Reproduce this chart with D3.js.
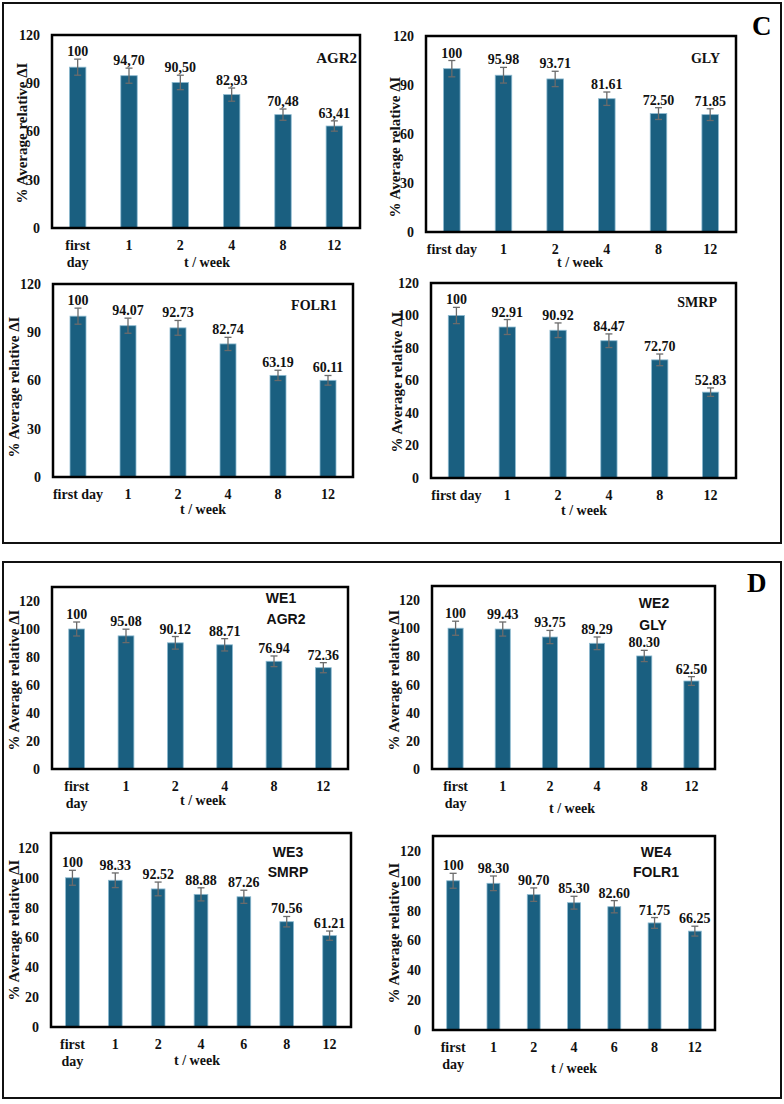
<!DOCTYPE html>
<html>
<head>
<meta charset="utf-8">
<script src="https://cdn.jsdelivr.net/npm/d3@7"></script>
<style>
  html, body { margin: 0; padding: 0; background: #fff; }
  svg { display: block; }
</style>
</head>
<body>
<svg id="chart" width="784" height="1104"></svg>
<script>
// ---------- DATA ----------
const catsC6 = ["first day", "1", "2", "4", "8", "12"];
const catsD7 = ["first day", "1", "2", "4", "6", "8", "12"];

const ticks30 = [0, 30, 60, 90, 120];
const ticks20 = [0, 20, 40, 60, 80, 100, 120];

// Panel C
const agr2Values = [100, 94.70, 90.50, 82.93, 70.48, 63.41];
const agr2Labels = ["100", "94,70", "90,50", "82,93", "70,48", "63,41"];
const agr2Err    = [5.0, 4.7, 4.5, 4.1, 3.5, 3.2];

const glyValues = [100, 95.98, 93.71, 81.61, 72.50, 71.85];
const glyLabels = ["100", "95.98", "93.71", "81.61", "72.50", "71.85"];
const glyErr    = [5.0, 4.8, 4.7, 4.1, 3.6, 3.6];

const folr1Values = [100, 94.07, 92.73, 82.74, 63.19, 60.11];
const folr1Labels = ["100", "94.07", "92.73", "82.74", "63.19", "60.11"];
const folr1Err    = [5.0, 4.7, 4.6, 4.1, 3.2, 3.0];

const smrpValues = [100, 92.91, 90.92, 84.47, 72.70, 52.83];
const smrpLabels = ["100", "92.91", "90.92", "84.47", "72.70", "52.83"];
const smrpErr    = [5.0, 4.6, 4.5, 4.2, 3.6, 2.6];

// Panel D
const we1Values = [100, 95.08, 90.12, 88.71, 76.94, 72.36];
const we1Labels = ["100", "95.08", "90.12", "88.71", "76.94", "72.36"];
const we1Err    = [5.0, 4.8, 4.5, 4.4, 3.8, 3.6];

const we2Values = [100, 99.43, 93.75, 89.29, 80.30, 62.50];
const we2Labels = ["100", "99.43", "93.75", "89.29", "80.30", "62.50"];
const we2Err    = [5.0, 5.0, 4.7, 4.5, 4.0, 3.1];

const we3Values = [100, 98.33, 92.52, 88.88, 87.26, 70.56, 61.21];
const we3Labels = ["100", "98.33", "92.52", "88.88", "87.26", "70.56", "61.21"];
const we3Err    = [5.0, 4.9, 4.6, 4.4, 4.4, 3.5, 3.1];

const we4Values = [100, 98.30, 90.70, 85.30, 82.60, 71.75, 66.25];
const we4Labels = ["100", "98.30", "90.70", "85.30", "82.60", "71.75", "66.25"];
const we4Err    = [5.0, 4.9, 4.5, 4.3, 4.1, 3.6, 3.3];

const yTitle = "% Average relative \u0394I";
const xTitle = "t / week";

// ---------- LAYOUT ----------
const SERIF = "'Liberation Serif', 'Times New Roman', serif";
const SANS = "'Liberation Sans', Arial, sans-serif";
const BAR = "#1a5f80";

const panels = [
  { cats: catsC6, values: agr2Values, labels: agr2Labels, err: agr2Err, ticks: ticks30, yMax: 120,
    box: [52, 35, 360, 228], twoLine: true, xtY: 262, xtX: 207, yt: [22, 133],
    titles: [{ t: "AGR2", x: 357, y: 58, anchor: "end", font: SERIF, size: 15 }] },
  { cats: catsC6, values: glyValues, labels: glyLabels, err: glyErr, ticks: ticks30, yMax: 120,
    box: [426, 36, 736, 232], twoLine: false, xtY: 262, xtX: 580, yt: [395, 147],
    titles: [{ t: "GLY", x: 720, y: 58, anchor: "end", font: SERIF, size: 14 }] },
  { cats: catsC6, values: folr1Values, labels: folr1Labels, err: folr1Err, ticks: ticks30, yMax: 120,
    box: [53, 284, 353, 477], twoLine: false, xtY: 509, xtX: 203, yt: [14, 387],
    titles: [{ t: "FOLR1", x: 337, y: 305, anchor: "end", font: SERIF, size: 14 }] },
  { cats: catsC6, values: smrpValues, labels: smrpLabels, err: smrpErr, ticks: ticks20, yMax: 120,
    box: [431, 283, 736, 478], twoLine: false, xtY: 510, xtX: 584, yt: [397, 382],
    titles: [{ t: "SMRP", x: 717, y: 302, anchor: "end", font: SERIF, size: 14 }] },
  { cats: catsC6, values: we1Values, labels: we1Labels, err: we1Err, ticks: ticks20, yMax: 130,
    box: [52, 587, 348, 769], twoLine: true, xtY: 800, xtX: 203, yt: [14, 680],
    titles: [{ t: "WE1", x: 281, y: 598, anchor: "middle", font: SANS, size: 14 },
             { t: "AGR2", x: 286, y: 619, anchor: "middle", font: SANS, size: 14 }] },
  { cats: catsC6, values: we2Values, labels: we2Labels, err: we2Err, ticks: ticks20, yMax: 130,
    box: [432, 586, 715, 769], twoLine: true, xtY: 808, xtX: 572, yt: [394, 680],
    titles: [{ t: "WE2", x: 654, y: 603, anchor: "middle", font: SANS, size: 14 },
             { t: "GLY", x: 653, y: 625, anchor: "middle", font: SANS, size: 14 }] },
  { cats: catsD7, values: we3Values, labels: we3Labels, err: we3Err, ticks: ticks20, yMax: 130,
    box: [51, 833, 351, 1027], twoLine: true, xtY: 1060, xtX: 197, yt: [14, 930],
    titles: [{ t: "WE3", x: 288, y: 852, anchor: "middle", font: SANS, size: 14 },
             { t: "SMRP", x: 288, y: 872, anchor: "middle", font: SANS, size: 14 }] },
  { cats: catsD7, values: we4Values, labels: we4Labels, err: we4Err, ticks: ticks20, yMax: 130,
    box: [433, 836, 715, 1030], twoLine: true, xtY: 1068, xtX: 574, yt: [394, 933],
    titles: [{ t: "WE4", x: 656, y: 852, anchor: "middle", font: SANS, size: 14 },
             { t: "FOLR1", x: 656, y: 872, anchor: "middle", font: SANS, size: 14 }] }
];

const svg = d3.select("#chart");

// outer boxes
svg.append("rect").attr("x", 3).attr("y", 3).attr("width", 778).attr("height", 540)
  .attr("fill", "none").attr("stroke", "#111").attr("stroke-width", 2);
svg.append("rect").attr("x", 3).attr("y", 562).attr("width", 778).attr("height", 536)
  .attr("fill", "none").attr("stroke", "#111").attr("stroke-width", 2);

svg.append("text").attr("x", 752).attr("y", 35).text("C")
  .attr("font-family", SERIF).attr("font-weight", "bold").attr("font-size", 27);
svg.append("text").attr("x", 747).attr("y", 592).text("D")
  .attr("font-family", SERIF).attr("font-weight", "bold").attr("font-size", 27);

panels.forEach(p => {
  const [x0, y0, x1, y1] = p.box;
  const g = svg.append("g");
  const y = d3.scaleLinear().domain([0, p.yMax]).range([y1, y0]);
  const x = d3.scaleBand().domain(p.cats).range([x0, x1]).paddingInner(0.68).paddingOuter(0.34);

  const data = p.cats.map((c, i) => ({ c, v: p.values[i], e: p.err[i], l: p.labels[i] }));

  // bars
  g.selectAll("rect.bar").data(data).join("rect")
    .attr("class", "bar")
    .attr("x", d => x(d.c)).attr("width", x.bandwidth())
    .attr("y", d => y(d.v)).attr("height", d => y(0) - y(d.v))
    .attr("fill", BAR).attr("stroke", "#8dbad0").attr("stroke-width", 0.8);

  // error bars
  const eb = g.selectAll("g.err").data(data).join("g").attr("class", "err")
    .attr("stroke", "#6b6b6b").attr("stroke-width", 1.3);
  eb.append("line")
    .attr("x1", d => x(d.c) + x.bandwidth() / 2).attr("x2", d => x(d.c) + x.bandwidth() / 2)
    .attr("y1", d => y(d.v + d.e)).attr("y2", d => y(d.v - d.e));
  eb.append("line")
    .attr("x1", d => x(d.c) + x.bandwidth() / 2 - 3.5).attr("x2", d => x(d.c) + x.bandwidth() / 2 + 3.5)
    .attr("y1", d => y(d.v + d.e)).attr("y2", d => y(d.v + d.e));
  eb.append("line")
    .attr("x1", d => x(d.c) + x.bandwidth() / 2 - 3.5).attr("x2", d => x(d.c) + x.bandwidth() / 2 + 3.5)
    .attr("y1", d => y(d.v - d.e)).attr("y2", d => y(d.v - d.e));

  // value labels
  g.selectAll("text.val").data(data).join("text").attr("class", "val")
    .attr("x", d => x(d.c) + x.bandwidth() / 2)
    .attr("y", d => y(d.v + d.e) - 3)
    .attr("text-anchor", "middle")
    .attr("font-family", SERIF).attr("font-weight", "bold").attr("font-size", 14)
    .attr("fill", "#111")
    .text(d => d.l);

  // frame
  g.append("rect").attr("x", x0).attr("y", y0).attr("width", x1 - x0).attr("height", y1 - y0)
    .attr("fill", "none").attr("stroke", "#000").attr("stroke-width", 2.5);

  // y axis
  const ya = g.append("g").attr("transform", `translate(${x0},0)`)
    .call(d3.axisLeft(y).tickValues(p.ticks).tickSize(0).tickPadding(12));
  ya.select(".domain").remove();
  ya.selectAll("text").attr("font-family", SERIF).attr("font-weight", "bold")
    .attr("font-size", 14).attr("fill", "#111");

  // x axis
  const xa = g.append("g").attr("transform", `translate(0,${y1})`)
    .call(d3.axisBottom(x).tickSize(0).tickPadding(0));
  xa.select(".domain").remove();
  xa.selectAll("text").each(function (d) {
    const t = d3.select(this);
    t.text(null).attr("y", 0).attr("dy", null)
      .attr("font-family", SERIF).attr("font-weight", "bold")
      .attr("font-size", 14).attr("fill", "#111");
    if (p.twoLine && d === "first day") {
      t.append("tspan").attr("x", 0).attr("y", 22).text("first");
      t.append("tspan").attr("x", 0).attr("y", 39).text("day");
    } else {
      t.append("tspan").attr("x", 0).attr("y", 22).text(d);
    }
  });

  // axis titles
  g.append("text").attr("x", p.xtX).attr("y", p.xtY + 5).attr("text-anchor", "middle")
    .attr("font-family", SERIF).attr("font-weight", "bold").attr("font-size", 14)
    .attr("fill", "#111").text(xTitle);
  g.append("text")
    .attr("transform", `translate(${p.yt[0] + 5},${p.yt[1]}) rotate(-90)`)
    .attr("text-anchor", "middle")
    .attr("font-family", SERIF).attr("font-weight", "bold").attr("font-size", 15)
    .attr("fill", "#111").text(yTitle);

  // panel titles
  p.titles.forEach(tt => {
    g.append("text").attr("x", tt.x).attr("y", tt.y + 5).attr("text-anchor", tt.anchor)
      .attr("font-family", tt.font).attr("font-weight", "bold").attr("font-size", tt.size)
      .attr("fill", "#111").text(tt.t);
  });
});
</script>
</body>
</html>
